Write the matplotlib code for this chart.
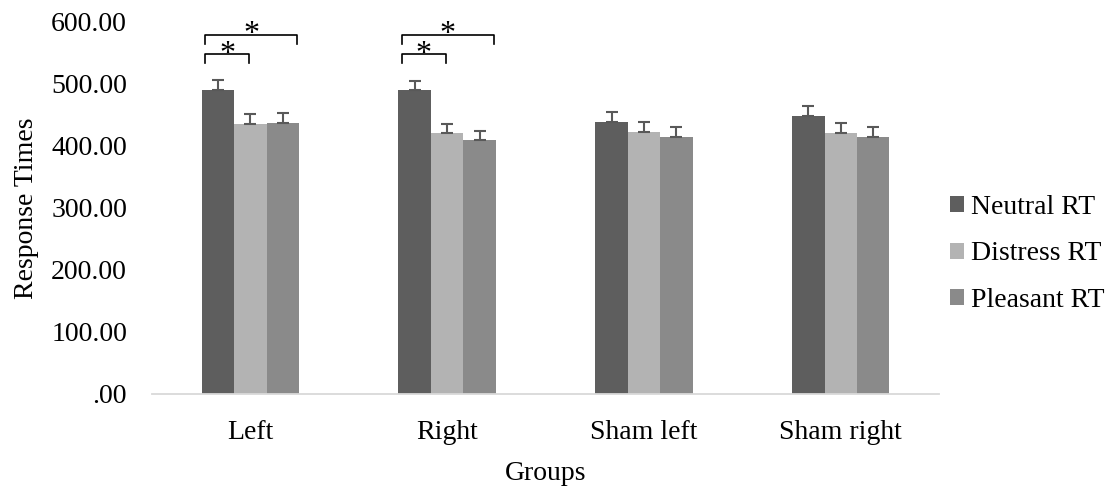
import numpy as np
import matplotlib
matplotlib.use("Agg")
import matplotlib.pyplot as plt

plt.rcParams['font.family'] = ['Liberation Serif', 'DejaVu Serif']

# Data
groups = ["Left", "Right", "Sham left", "Sham right"]
series = ["Neutral RT", "Distress RT", "Pleasant RT"]
neutral = [490, 490, 438, 448]
distress = [436, 421, 423, 421]
pleasant = [437, 409, 415, 415]
neutral_err = [16, 15, 16, 16]
distress_err = [15, 15, 16, 16]
pleasant_err = [16, 15, 16, 16]
colors = ["#5e5e5e", "#b3b3b3", "#8a8a8a"]

values = [neutral, distress, pleasant]
errors = [neutral_err, distress_err, pleasant_err]
fs = 20

fig = plt.figure(figsize=(11.18, 4.88), dpi=100)
ax = fig.add_axes([0.136, 0.193, 0.704, 0.762])

x = np.arange(len(groups))
w = 0.165
for k, (vals, errs, name, c) in enumerate(zip(values, errors, series, colors)):
    pos = x + (k - 1) * w
    ax.bar(pos, vals, width=w, color=c, label=name, zorder=2)
    ax.errorbar(pos, vals, yerr=[np.zeros(len(errs)), errs], fmt='none',
                ecolor="#595959", elinewidth=1.5, capsize=4.5, capthick=1.5, zorder=3)

# significance brackets over Left and Right
def bracket(x0, x1, y, h, ystar, ax):
    ax.plot([x0, x0, x1, x1], [y - h, y, y, y - h], color='black', lw=1.2,
            clip_on=False, zorder=4)
    ax.text((x0 + x1) / 2, ystar, "*", ha='center', va='baseline', fontsize=23,
            clip_on=False)

for g in [0, 1]:
    bracket(g - 0.23, g - 0.007, 548, 15, 536, ax)
    bracket(g - 0.23, g + 0.236, 579, 15, 568, ax)

ax.set_xlim(-0.5, 3.5)
ax.set_ylim(0, 600)
ax.set_yticks(np.arange(0, 601, 100))
ax.set_yticklabels([".00" if v == 0 else f"{v:.2f}" for v in range(0, 601, 100)])
ax.set_xticks(x)
ax.set_xticklabels(groups)
ax.tick_params(length=0, labelsize=fs)
ax.tick_params(axis='y', pad=18)
ax.tick_params(axis='x', pad=18.5)
for s in ['top', 'right', 'left']:
    ax.spines[s].set_visible(False)
ax.spines['bottom'].set_color("#d9d9d9")
ax.spines['bottom'].set_linewidth(1.3)

ax.set_xlabel("Groups", fontsize=fs, labelpad=12)
ax.set_ylabel("Response Times", fontsize=fs, labelpad=9)

fig.legend(loc='center left', bbox_to_anchor=(950 / 1118, 1 - 254 / 488),
           frameon=False, fontsize=fs, handlelength=0.5, handleheight=0.5,
           handletextpad=0.25, labelspacing=0.77, borderpad=0, borderaxespad=0)

fig.savefig("out.png", dpi=100)
